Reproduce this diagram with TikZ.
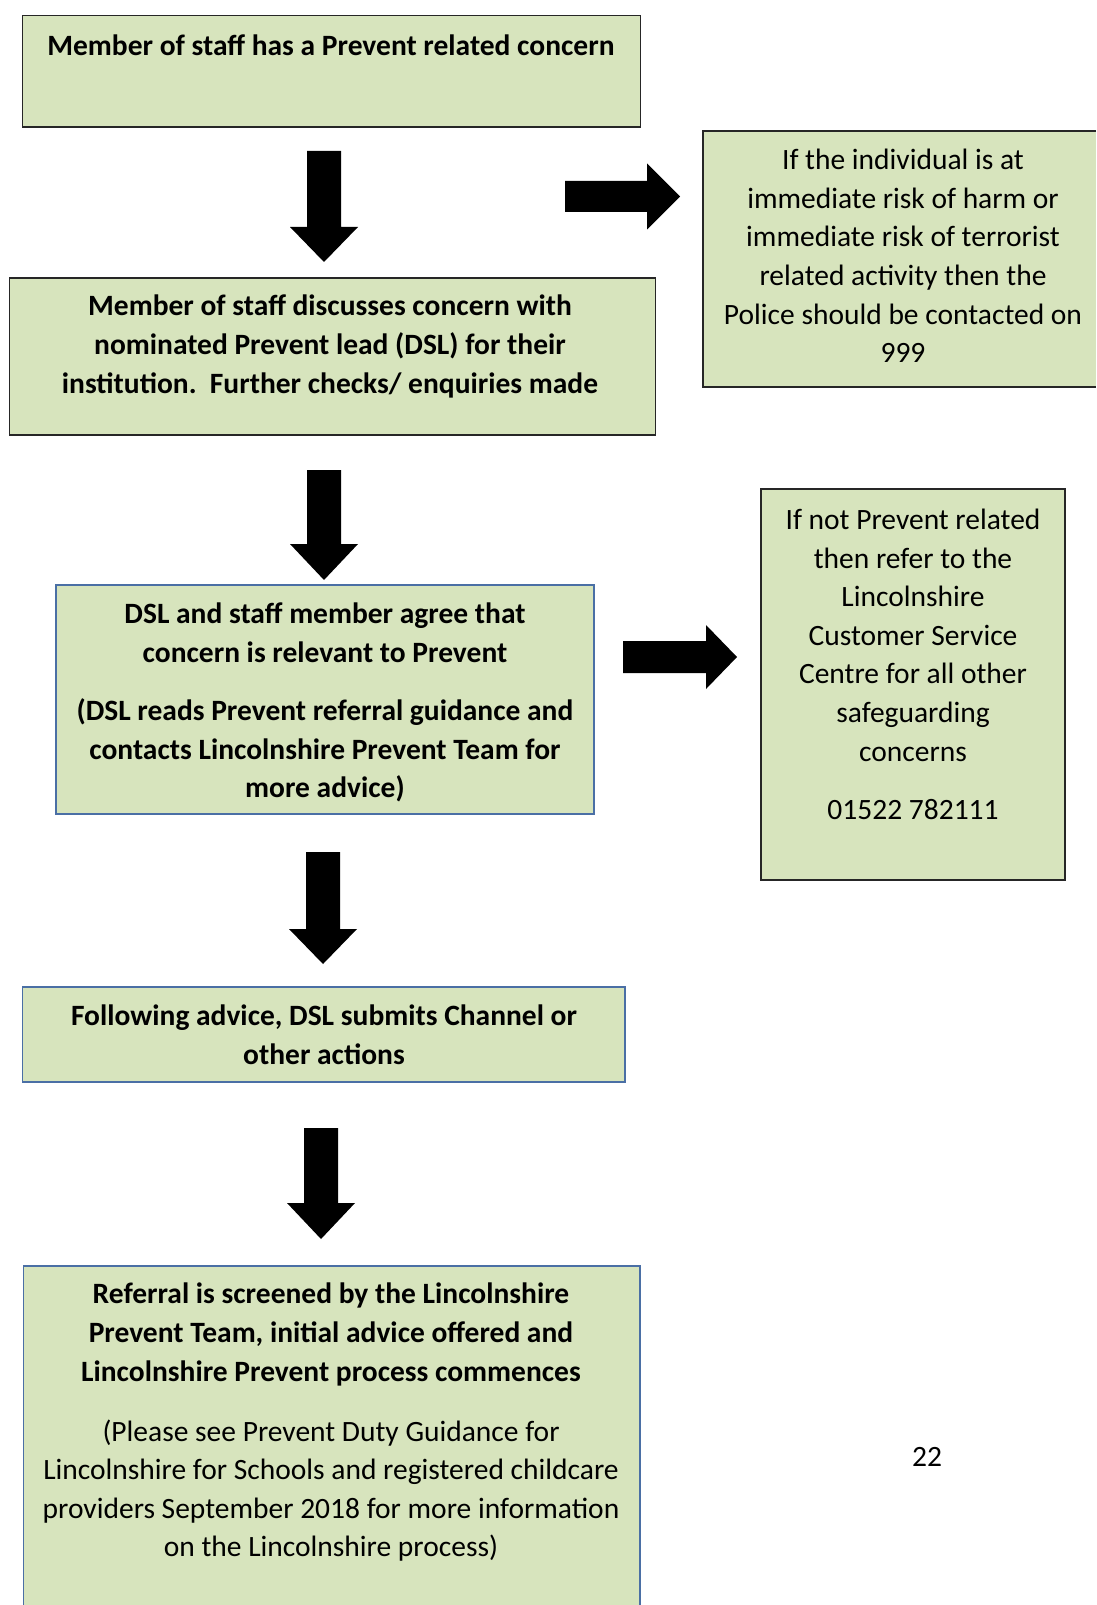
\documentclass[tikz,border=0pt]{standalone}
\usepackage{fontspec}
\setmainfont{Carlito}
\definecolor{boxfill}{HTML}{D7E4BD}
\definecolor{boxblue}{HTML}{4A6FA5}
\definecolor{boxdark}{HTML}{262626}
\tikzset{
  boxarea/.style={fill=boxfill},
  darkline/.style={draw=boxdark, line width=1.4pt},
  blueline/.style={draw=boxblue, line width=1.4pt},
  txt/.style={align=center, inner sep=0pt, font=\fontsize{29.5}{38.6}\selectfont},
  btxt/.style={txt, font=\fontsize{29.5}{38.6}\selectfont\bfseries},
  blockarrow/.style={fill=black},
}
\newcommand{\downblock}[4]{% cx, top, headstart, tip
  \fill[blockarrow] (#1-17,#2) -- (#1+17,#2) -- (#1+17,#3) -- (#1+34,#3) -- (#1,#4) -- (#1-34,#3) -- (#1-17,#3) -- cycle;}
\newcommand{\rightblock}[6]{% left, headstart, tip, cy, shafthalf, headhalf
  \fill[blockarrow] (#1,#4-#5) -- (#2,#4-#5) -- (#2,#4-#6) -- (#3,#4) -- (#2,#4+#6) -- (#2,#4+#5) -- (#1,#4+#5) -- cycle;}
\begin{document}
\begin{tikzpicture}[x=1pt,y=-1pt]
\useasboundingbox (0,0) rectangle (1096,1605);

% Box 1
\path[boxarea, darkline] (22.5,15.5) rectangle (640.5,127);
\node[btxt] (t1) at (331,45) {Member of staff has a Prevent related concern};

% Box 2
\path[boxarea, darkline] (9.5,278) rectangle (655.5,435);
\node[btxt] (t2) at (330,346.5) {Member of staff discusses concern with\\nominated Prevent lead (DSL) for their\\institution.\ \ Further checks/ enquiries made};

% Right box 1
\fill[boxarea] (703,131) rectangle (1096,387);
\draw[darkline] (1096,131) -- (703,131) -- (703,387) -- (1096,387);
\node[txt] (r1) at (903,256) {If the individual is at\\immediate risk of harm or\\immediate risk of terrorist\\related activity then the\\Police should be contacted on\\999};

% Box 3
\path[boxarea, blueline] (56,585) rectangle (594,814);
\node[btxt] (t3) at (325,702.5) {DSL and staff member agree that\\concern is relevant to Prevent\\[20pt](DSL reads Prevent referral guidance and\\contacts Lincolnshire Prevent Team for\\more advice)};

% Right box 2
\path[boxarea, darkline] (761,489) rectangle (1065,880);
\node[txt] (r2) at (913,664.5) {If not Prevent related\\then refer to the\\Lincolnshire\\Customer Service\\Centre for all other\\safeguarding\\concerns\\[20pt]01522 782111};

% Box 4
\path[boxarea, blueline] (22.5,987) rectangle (625,1082);
\node[btxt] (t4) at (324,1035) {Following advice, DSL submits Channel or\\other actions};

% Box 5
\fill[boxarea] (23.5,1266) rectangle (640,1605);
\draw[blueline] (23.5,1605) -- (23.5,1266) -- (640,1266) -- (640,1605);
\node[btxt] (t5) at (331,1334.5) {Referral is screened by the Lincolnshire\\Prevent Team, initial advice offered and\\Lincolnshire Prevent process commences};
\node[txt] (t5b) at (331,1490.5) {(Please see Prevent Duty Guidance for\\Lincolnshire for Schools and registered childcare\\providers September 2018 for more information\\on the Lincolnshire process)};

% Page number
\node[txt] (pg) at (927,1457) {22};

% Block arrows
\downblock{324}{151}{227}{262}
\downblock{324}{470}{544}{580}
\downblock{323}{852}{929}{964}
\downblock{321}{1128}{1203}{1239}
\rightblock{565}{647}{680}{196.5}{15.5}{33}
\rightblock{623}{706}{737}{657}{16}{32}
\end{tikzpicture}
\end{document}
